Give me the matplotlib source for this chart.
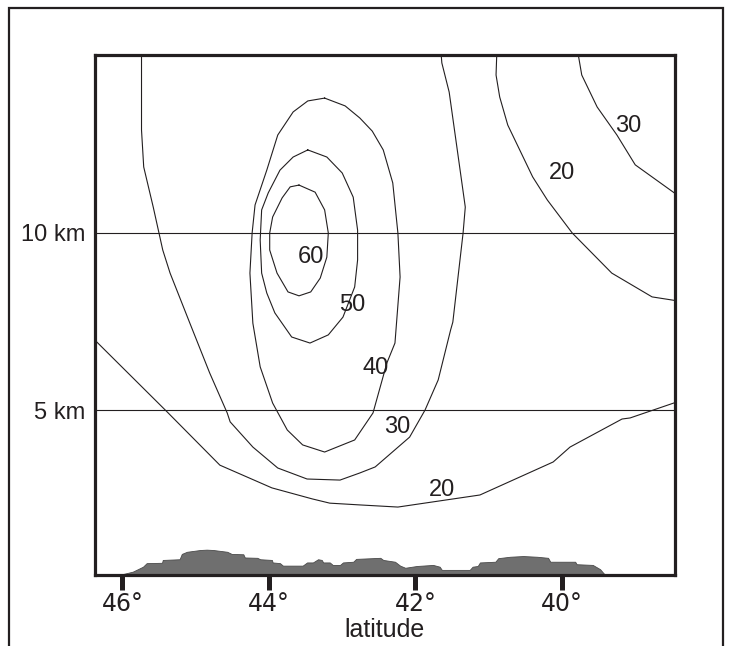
import matplotlib
matplotlib.use("Agg")
import matplotlib.pyplot as plt
from matplotlib.patches import Rectangle

# contour lines, latitude (deg N) and height (km)
c20_low_lat = [46.38, 45.39, 44.67, 43.96, 43.41, 43.17, 42.76, 42.24, 41.12, 40.12, 39.89, 39.18, 39.07, 38.46]
c20_low_km = [6.99, 4.96, 3.46, 2.82, 2.51, 2.39, 2.34, 2.28, 2.62, 3.55, 3.97, 4.76, 4.79, 5.22]

c20_up_lat = [40.89, 40.90, 40.85, 40.74, 40.40, 40.20, 39.86, 39.32, 38.77, 38.46]
c20_up_km = [15.05, 14.45, 13.83, 13.04, 11.58, 10.93, 10.00, 8.87, 8.20, 8.10]

c30_up_lat = [39.78, 39.73, 39.52, 39.25, 39.00, 38.46]
c30_up_km = [15.05, 14.45, 13.55, 12.76, 11.92, 11.12]

c30_lat = [45.74, 45.74, 45.71, 45.58, 45.45, 45.35, 45.08, 44.81, 44.57, 44.53, 44.22,
           43.88, 43.48, 43.03, 42.76, 42.55, 42.08, 41.87, 41.69, 41.52, 41.49, 41.35,
           41.32, 41.54, 41.64, 41.65]
c30_km = [15.05, 12.90, 11.86, 10.73, 9.52, 8.87, 7.46, 6.06, 4.93, 4.68, 3.97,
          3.38, 3.07, 3.04, 3.24, 3.41, 4.25, 5.01, 5.86, 7.27, 7.49, 10.00,
          10.73, 13.97, 14.79, 15.05]

c40_lat = [43.24, 42.96, 42.76, 42.59, 42.44, 42.31, 42.24, 42.21, 42.28, 42.39, 42.58, 42.83,
           43.24, 43.54, 43.75, 43.95, 44.12, 44.22, 44.26, 44.23, 44.19, 44.03, 43.88,
           43.67, 43.47, 43.24]
c40_km = [13.80, 13.58, 13.24, 12.87, 12.34, 11.41, 10.00, 8.76, 6.90, 6.34, 4.93, 4.17,
          3.83, 4.03, 4.45, 5.21, 6.23, 7.46, 8.87, 10.00, 10.79, 11.77, 12.76,
          13.41, 13.72, 13.80]

c50_lat = [43.47, 43.21, 43.00, 42.85, 42.79, 42.79, 42.83, 42.99, 43.19, 43.44, 43.69,
           43.92, 44.03, 44.10, 44.12, 44.10, 44.01, 43.85, 43.67, 43.47]
c50_km = [12.34, 12.14, 11.69, 11.01, 10.08, 9.24, 8.48, 7.63, 7.13, 6.90, 7.07,
          7.75, 8.31, 8.87, 9.80, 10.65, 11.13, 11.77, 12.14, 12.34]

c60_lat = [43.59, 43.37, 43.24, 43.19, 43.21, 43.30, 43.43, 43.59, 43.74, 43.89, 43.99,
           43.99, 43.95, 43.82, 43.71, 43.59]
c60_km = [11.35, 11.15, 10.65, 10.00, 9.32, 8.73, 8.34, 8.23, 8.34, 8.87, 9.52,
          10.00, 10.45, 10.99, 11.30, 11.35]

# contour labels
label_text = ["60", "50", "40", "30", "20", "20", "30"]
label_lat = [43.43, 42.87, 42.55, 42.25, 41.64, 40.00, 39.09]
label_km = [9.32, 7.97, 6.20, 4.54, 2.76, 11.69, 13.01]

# terrain profile
terrain_lat = [46.02, 45.86, 45.72, 45.67, 45.46, 45.45, 45.22, 45.19, 45.12, 44.94, 44.85,
               44.76, 44.57, 44.51, 44.35, 44.33, 44.16, 44.12, 43.96, 43.95, 43.85, 43.81,
               43.54, 43.48, 43.40, 43.33, 43.28, 43.26, 43.17, 43.13, 43.03, 42.99, 42.85,
               42.81, 42.48, 42.44, 42.28, 42.21, 42.14, 41.98, 41.76, 41.67, 41.64, 41.26,
               41.22, 41.15, 41.12, 40.91, 40.87, 40.71, 40.53, 40.34, 40.19, 40.16, 39.82,
               39.80, 39.58, 39.48, 39.43, 39.40]
terrain_km = [0.38, 0.46, 0.60, 0.70, 0.71, 0.79, 0.81, 0.96, 1.02, 1.07, 1.08,
              1.07, 1.02, 0.96, 0.95, 0.86, 0.85, 0.81, 0.79, 0.72, 0.70, 0.63,
              0.63, 0.72, 0.72, 0.81, 0.79, 0.72, 0.72, 0.65, 0.65, 0.72, 0.74,
              0.82, 0.85, 0.79, 0.74, 0.63, 0.57, 0.62, 0.65, 0.60, 0.51, 0.51,
              0.60, 0.62, 0.72, 0.74, 0.84, 0.88, 0.90, 0.88, 0.85, 0.74, 0.74,
              0.67, 0.65, 0.53, 0.41, 0.37]

lat_ticks = [46, 44, 42, 40]
height_ticks = [5, 10]
height_labels = ["5 km", "10 km"]

ink = "#231f20"
lat_range = (46.375, 38.457)
km_range = (0.366, 15.014)

fig = plt.figure(figsize=(7.34, 6.46), dpi=100)
ax = fig.add_axes([95 / 734, 1 - 575 / 646, 580 / 734, 520 / 646])

# outer frame
fig.add_artist(Rectangle((9 / 734, -0.05), 714 / 734, 1.05 - 8 / 646,
                         transform=fig.transFigure, fill=False, lw=1.6, ec=ink))

for y in height_ticks:
    ax.axhline(y, color=ink, lw=0.8)

ax.fill_between(terrain_lat, km_range[0], terrain_km, color="#6f6f6f",
                edgecolor="#4a4a4a", lw=0.6)

for xs, ys in [(c20_low_lat, c20_low_km), (c20_up_lat, c20_up_km), (c30_up_lat, c30_up_km),
               (c30_lat, c30_km), (c40_lat, c40_km), (c50_lat, c50_km), (c60_lat, c60_km)]:
    ax.plot(xs, ys, color=ink, lw=0.8)

for t, x, y in zip(label_text, label_lat, label_km):
    ax.text(x, y, t, ha="center", va="center", fontsize=17,
            family="Liberation Sans", color=ink)

ax.set_xlim(*lat_range)
ax.set_ylim(*km_range)

ax.set_xticks(lat_ticks)
ax.set_xticklabels([f"{v}°" for v in lat_ticks], family="Liberation Sans Narrow",
                   fontsize=17, color=ink)
ax.tick_params(axis="x", direction="out", length=11, width=3.6, color=ink, pad=1)

ax.set_yticks(height_ticks)
ax.set_yticklabels(height_labels, family="Liberation Sans", fontsize=17, color=ink)
ax.tick_params(axis="y", length=0, pad=7)

ax.set_xlabel("latitude", family="Liberation Sans", fontsize=18, color=ink, labelpad=2)

for s in ax.spines.values():
    s.set_linewidth(2.3)
    s.set_color(ink)

fig.savefig("out.png", dpi=100)
